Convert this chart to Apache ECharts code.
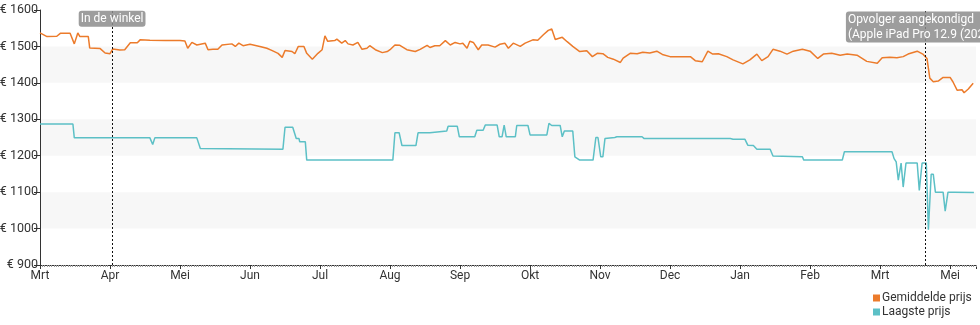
<!DOCTYPE html>
<html><head><meta charset="utf-8">
<script src="https://cdn.jsdelivr.net/npm/echarts@6/dist/echarts.min.js"></script>
<style>html,body{margin:0;padding:0;background:#fff}#c{width:980px;height:325px}</style>
</head><body><div id="c"></div>
<script>
var monthLabels = ['Mrt','Apr','Mei','Jun','Jul','Aug','Sep','Okt','Nov','Dec','Jan','Feb','Mrt','Mei'];
var yTicks = [900,1000,1100,1200,1300,1400,1500,1600];
var seriesNames = ['Gemiddelde prijs','Laagste prijs'];
var eventNames = ['In de winkel','Opvolger aangekondigd\n(Apple iPad Pro 12.9 (2021))'];
var eventMonths = [1.03, 12.64];

var avgMonths = [0,0.10,0.24,0.29,0.43,0.49,0.54,0.57,0.69,0.71,0.86,0.93,1.00,1.04,1.14,1.21,1.29,1.39,1.43,1.57,1.79,2.00,2.07,2.11,2.17,2.24,2.36,2.40,2.47,2.54,2.60,2.74,2.79,2.84,2.90,3.00,3.14,3.24,3.31,3.40,3.46,3.50,3.60,3.64,3.69,3.77,3.81,3.89,3.97,4.03,4.07,4.11,4.21,4.24,4.31,4.36,4.40,4.47,4.54,4.60,4.67,4.71,4.79,4.89,4.96,5.00,5.07,5.14,5.24,5.36,5.43,5.53,5.57,5.64,5.71,5.79,5.86,5.93,6.00,6.04,6.10,6.14,6.19,6.26,6.31,6.40,6.50,6.57,6.64,6.69,6.76,6.86,6.93,7.04,7.11,7.19,7.26,7.31,7.36,7.46,7.53,7.61,7.71,7.81,7.89,7.96,8.04,8.11,8.19,8.29,8.33,8.43,8.53,8.61,8.71,8.81,8.89,9.00,9.14,9.29,9.36,9.46,9.54,9.61,9.69,9.81,9.90,10.04,10.14,10.24,10.31,10.40,10.47,10.57,10.67,10.76,10.89,11.00,11.11,11.19,11.31,11.43,11.53,11.67,11.81,11.96,12.03,12.14,12.24,12.33,12.40,12.53,12.61,12.67,12.71,12.76,12.83,12.90,13.00,13.04,13.10,13.17,13.20,13.26,13.33];
var avgPrices = [1537,1527,1528,1536,1536,1507,1537,1527,1527,1496,1494,1482,1480,1493,1490,1491,1510,1510,1518,1517,1516,1516,1515,1495,1511,1504,1509,1491,1492,1492,1504,1507,1500,1509,1502,1506,1500,1495,1489,1481,1470,1489,1486,1480,1500,1500,1481,1465,1481,1491,1529,1514,1516,1520,1509,1516,1507,1504,1511,1492,1495,1502,1491,1483,1486,1491,1504,1503,1491,1486,1492,1503,1497,1502,1502,1516,1504,1511,1507,1509,1495,1514,1511,1491,1504,1504,1498,1506,1509,1495,1509,1500,1509,1518,1517,1532,1544,1548,1519,1525,1513,1500,1486,1488,1472,1481,1480,1470,1465,1456,1468,1481,1480,1484,1482,1487,1478,1472,1472,1472,1461,1458,1487,1479,1480,1472,1463,1452,1463,1479,1461,1472,1492,1487,1479,1487,1492,1487,1467,1479,1481,1476,1479,1476,1459,1454,1469,1470,1469,1472,1479,1487,1479,1467,1413,1403,1405,1415,1415,1403,1380,1381,1373,1383,1399];

var lowMonths = [0,0.47,0.49,1.57,1.61,1.64,2.24,2.29,3.47,3.50,3.61,3.66,3.70,3.71,3.79,3.81,5.04,5.07,5.13,5.17,5.37,5.40,5.57,5.59,5.81,5.83,5.96,5.99,6.21,6.24,6.33,6.36,6.53,6.56,6.60,6.63,6.66,6.79,6.81,6.97,7.00,7.24,7.27,7.31,7.43,7.46,7.49,7.61,7.64,7.71,7.90,7.94,7.97,8.01,8.04,8.07,8.21,8.24,8.60,8.63,9.86,9.90,10.07,10.11,10.19,10.24,10.43,10.47,10.89,10.91,11.46,11.49,12.17,12.20,12.23,12.26,12.30,12.33,12.37,12.53,12.56,12.60,12.66,12.69,12.73,12.76,12.79,12.90,12.93,12.97,13.06,13.34];
var lowPrices = [1287,1287,1249,1249,1231,1249,1249,1220,1218,1278,1278,1247,1247,1238,1238,1188,1188,1263,1263,1228,1228,1263,1263,1268,1268,1281,1281,1252,1252,1270,1270,1284,1284,1252,1252,1284,1252,1252,1283,1283,1257,1257,1289,1283,1283,1252,1268,1268,1197,1188,1188,1250,1250,1197,1197,1247,1250,1252,1252,1247,1247,1245,1245,1229,1228,1218,1218,1199,1197,1188,1188,1211,1211,1192,1183,1133,1180,1114,1180,1180,1105,1180,1180,997,1149,1149,1100,1100,1048,1100,1100,1099];

function zip(a,b){return a.map(function(v,i){return [v,b[i]];});}
var FONT = 'Roboto';
var chart = echarts.init(document.getElementById('c'), null, {renderer:'canvas'});
var labelBox = {backgroundColor:'rgba(140,140,140,0.85)', color:'#fff', borderRadius:3, padding:[1,2,0,2], fontFamily:FONT, fontSize:12, lineHeight:15};
chart.setOption({
  animation:false,
  textStyle:{fontFamily:FONT},
  grid:{left:40, right:4, top:10, bottom:60, containLabel:false, outerBoundsMode:'none'},
  legend:{
    orient:'vertical', left:873, top:291, width:110, height:40, padding:0,
    itemWidth:7, itemHeight:7, itemGap:0, icon:'rect', align:'left',
    textStyle:{fontFamily:FONT, fontSize:12, color:'#333', padding:[0,0,0,-3], lineHeight:14},
    data:seriesNames
  },
  xAxis:{
    type:'value', min:0, max:13.37, interval:1,
    axisLine:{show:true, lineStyle:{color:'#333', width:1}},
    axisTick:{show:true, length:4, lineStyle:{color:'#333'}},
    minorTick:{show:true, splitNumber:30, length:2, lineStyle:{color:'#999'}},
    splitLine:{show:false},
    axisLabel:{showMaxLabel:false, margin:5, color:'#333', fontSize:12, fontFamily:FONT,
      formatter:function(v){return monthLabels[Math.round(v)]||'';}}
  },
  yAxis:{
    type:'value', min:yTicks[0], max:yTicks[yTicks.length-1], interval:100,
    axisLine:{show:true, lineStyle:{color:'#333', width:1}},
    axisTick:{show:true, length:6, lineStyle:{color:'#333'}},
    splitLine:{show:false},
    splitArea:{show:true, areaStyle:{color:['rgba(255,255,255,0)','#f7f7f7']}},
    axisLabel:{margin:2, color:'#333', fontSize:12.5, fontFamily:FONT,
      formatter:function(v){return '€ '+v;}}
  },
  series:[
    {name:seriesNames[0], type:'line', data:zip(avgMonths,avgPrices), showSymbol:false, symbol:'none',
     itemStyle:{color:'#ec7b2b'}, lineStyle:{color:'#ec7b2b', width:1.5},
     markLine:{silent:true, symbol:'none', animation:false,
       lineStyle:{color:'#111', type:[2,2], width:1},
       label:{show:false},
       data:[{xAxis:eventMonths[0]},{xAxis:eventMonths[1]}]},
     markPoint:{silent:true, symbol:'rect', symbolSize:0,
       data:[
         {coord:[eventMonths[0],1576], value:0,
          label:Object.assign({show:true, position:'inside', formatter:eventNames[0]}, labelBox)},
         {coord:[eventMonths[1],1553], value:0,
          label:Object.assign({show:true, position:'inside', align:'left', offset:[-79,0], formatter:eventNames[1]}, labelBox)}
       ]}
    },
    {name:seriesNames[1], type:'line', data:zip(lowMonths,lowPrices), showSymbol:false, symbol:'none',
     itemStyle:{color:'#5cc0c6'}, lineStyle:{color:'#5cc0c6', width:1.5}}
  ]
});
</script>
</body></html>
